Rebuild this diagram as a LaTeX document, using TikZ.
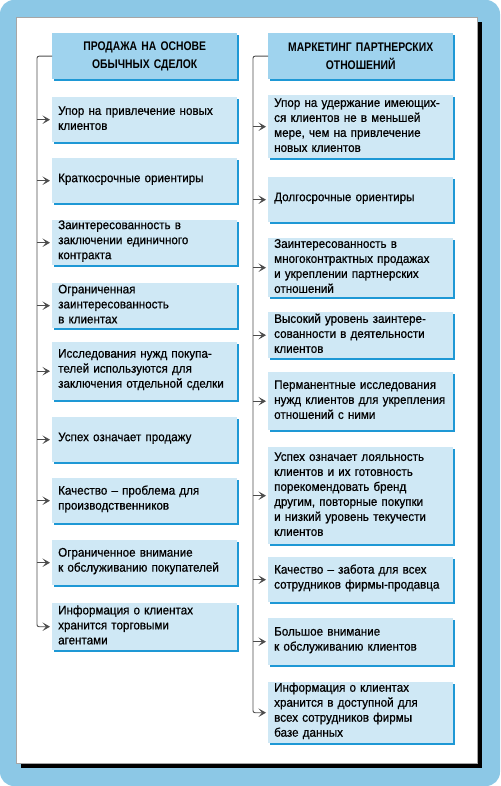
\documentclass[tikz,border=0pt]{standalone}
\usepackage{fontspec}
\setmainfont[FakeStretch=0.93, FakeBold=0.6]{Liberation Sans}
\newfontfamily\headfont[FakeStretch=0.83]{Liberation Sans Bold}
\usetikzlibrary{
	arrows.meta,
	shadows
}
\definecolor{backblue}{HTML}{8CC8E6}
\definecolor{headblue}{HTML}{9FD3EE}
\definecolor{itemblue}{HTML}{CFE8F5}
\definecolor{edgeblue}{HTML}{1E98D5}
\definecolor{linegray}{HTML}{4D4D4D}
\tikzset{
	panel/.style={
		draw=gray!70,
		fill=white,
		line width=0.6pt,
		anchor=north west,
		drop shadow={shadow xshift=4.5pt, shadow yshift=-4.5pt, fill=black, opacity=1}
	},
	headnode/.style={
		fill=headblue,
		anchor=north west,
		minimum width=185pt,
		minimum height=46pt,
		text width=173pt,
		inner xsep=6pt,
		inner ysep=2pt,
		align=center,
		font=\headfont\fontsize{12.5}{18}\selectfont,
		drop shadow={shadow xshift=2pt, shadow yshift=-2pt, fill=edgeblue, opacity=1}
	},
	itemnode/.style={
		fill=itemblue,
		anchor=north west,
		minimum width=185pt,
		text width=173pt,
		text height=5.5pt,
		inner xsep=6pt,
		inner ysep=2pt,
		align=left,
		font=\fontsize{12.5}{15}\selectfont,
		drop shadow={shadow xshift=2pt, shadow yshift=-2pt, fill=edgeblue, opacity=1}
	},
	link/.style={
		color=linegray,
		line width=0.9pt
	},
	arrow/.style={
		link,
		-{Stealth[length=7.5pt, width=8.5pt, inset=3.5pt]},
		shorten >=2pt
	}
}

\begin{document}
\begin{tikzpicture}[x=1pt, y=-1pt]
	
	\useasboundingbox (0,0) rectangle (500,786);
	\fill[white] (0,0) rectangle (500,786);
	\fill[backblue, rounded corners=14pt] (0,0) rectangle (500,786);
	\node[panel, minimum width=461pt, minimum height=746pt] (panel) at (16,17) {};
	
	% Left column
	\node[headnode] (lhead) at (52,33) {ПРОДАЖА НА ОСНОВЕ\\ОБЫЧНЫХ СДЕЛОК};
	
	\node[itemnode, minimum height=45pt] (l1) at (52,97)
	{Упор на привлечение новых\\клиентов};
	\node[itemnode, minimum height=45pt] (l2) at (52,158)
	{Краткосрочные ориентиры};
	\node[itemnode, minimum height=45pt] (l3) at (52,220)
	{Заинтересованность в\\заключении единичного\\контракта};
	\node[itemnode, minimum height=45pt] (l4) at (52,283)
	{Ограниченная\\заинтересованность\\в клиентах};
	\node[itemnode, minimum height=58pt] (l5) at (52,342)
	{Исследования нужд покупа-\\телей используются для\\заключения отдельной сделки};
	\node[itemnode, minimum height=45pt] (l6) at (52,417)
	{Успех означает продажу};
	\node[itemnode, minimum height=45pt] (l7) at (52,478)
	{Качество – проблема для\\производственников};
	\node[itemnode, minimum height=45pt] (l8) at (52,540)
	{Ограниченное внимание\\к обслуживанию покупателей};
	\node[itemnode, minimum height=47pt] (l9) at (52,603)
	{Информация о клиентах\\хранится торговыми\\агентами};
	
	% Right column
	\node[headnode] (rhead) at (268,33) {МАРКЕТИНГ ПАРТНЕРСКИХ\\ОТНОШЕНИЙ};
	
	\node[itemnode, minimum height=63pt] (r1) at (268,95)
	{Упор на удержание имеющих-\\ся клиентов не в меньшей\\мере, чем на привлечение\\новых клиентов};
	\node[itemnode, minimum height=45pt] (r2) at (268,177)
	{Долгосрочные ориентиры};
	\node[itemnode, minimum height=59pt] (r3) at (268,238)
	{Заинтересованность в\\многоконтрактных продажах\\и укреплении партнерских\\отношений};
	\node[itemnode, minimum height=46pt] (r4) at (268,312)
	{Высокий уровень заинтере-\\сованности в деятельности\\клиентов};
	\node[itemnode, minimum height=58pt] (r5) at (268,372)
	{Перманентные исследования\\нужд~клиентов~для~укрепления\\отношений с ними};
	\node[itemnode, minimum height=97pt] (r6) at (268,447)
	{Успех означает лояльность\\клиентов и их готовность\\порекомендовать бренд\\другим, повторные покупки\\и низкий уровень текучести\\клиентов};
	\node[itemnode, minimum height=45pt] (r7) at (268,557)
	{Качество – забота для всех\\сотрудников фирмы-продавца};
	\node[itemnode, minimum height=47pt] (r8) at (268,618)
	{Большое внимание\\к обслуживанию клиентов};
	\node[itemnode, minimum height=61pt] (r9) at (268,682)
	{Информация о клиентах\\хранится в доступной для\\всех сотрудников фирмы\\базе данных};
	
	% Trunks
	\coordinate (ltrunk) at (37,0);
	\coordinate (rtrunk) at (253,0);
	
	\draw[arrow, rounded corners=2pt] (lhead.west) -| (ltrunk |- l9.west) -- (l9.west);
	\draw[arrow, rounded corners=2pt] (rhead.west) -| (rtrunk |- r9.west) -- (r9.west);
	
	% Branches
	\foreach \i in {1,...,8} {
		\draw[arrow] (ltrunk |- l\i.west) -- (l\i.west);
		\draw[arrow] (rtrunk |- r\i.west) -- (r\i.west);
	}
	
\end{tikzpicture}
\end{document}
